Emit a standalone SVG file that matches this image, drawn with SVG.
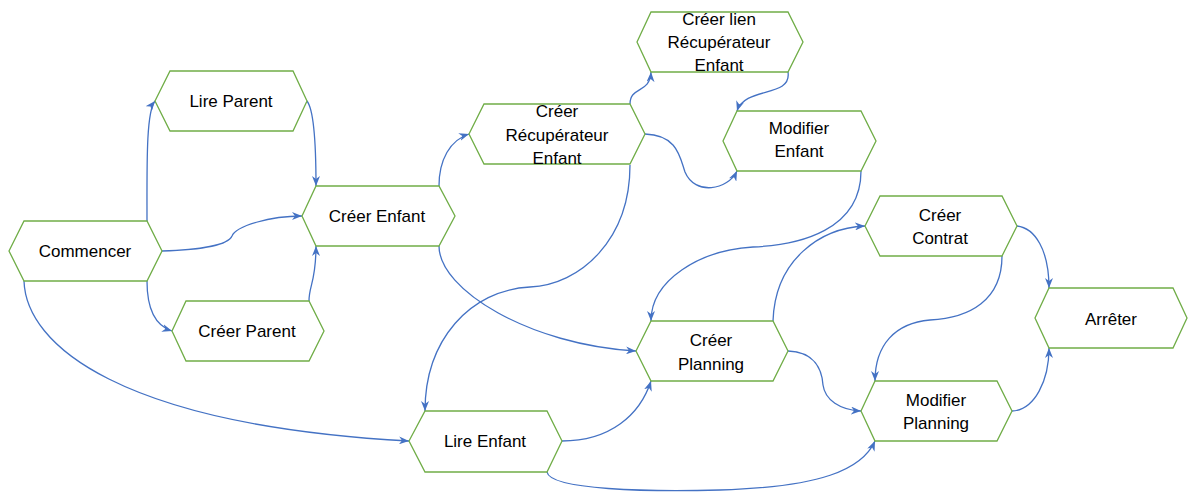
<svg xmlns="http://www.w3.org/2000/svg" width="1191" height="492" viewBox="0 0 1191 492">
<style>
.n{fill:#fff;stroke:#70AD47;stroke-width:1.3}
.t{font-family:"Liberation Sans",Arial,sans-serif;font-size:17px;fill:#000;text-anchor:middle}
.c{fill:none;stroke:#4472C4;stroke-width:1.3;marker-end:url(#a)}
</style>
<defs>
<marker id="a" viewBox="0 0 10 8" refX="10" refY="4" markerWidth="10" markerHeight="8" markerUnits="userSpaceOnUse" orient="auto">
<path d="M0,0 L10,4 L0,8 L3,4 Z" fill="#4472C4"/>
</marker>
</defs>
<rect width="1191" height="492" fill="#fff"/>
<g id="connectors">
<path class="c" d="M147,221 C147,165 146,112 155,101"/>
<path class="c" d="M162,251 C200,250 228,245 232,236 C236,226 270,216 302,216"/>
<path class="c" d="M147,281 C147,310 156,326 172,331"/>
<path class="c" d="M307,101 C314,110 316,140 316,186"/>
<path class="c" d="M309,301 C309,285 316,282 316,246"/>
<path class="c" d="M439,186 C439,160 450,140 469,134"/>
<path class="c" d="M439,246 C439,290 530,345 636,351"/>
<path class="c" d="M630,104 C630,86 650,94 651,72"/>
<path class="c" d="M788,72 C792,98 745,86 737,111"/>
<path class="c" d="M645,134 C678,135 680,158 685,172 C695,196 728,190 737,171"/>
<path class="c" d="M630,165 C630,240 580,285 530,287 C470,290 425,340 425,411"/>
<path class="c" d="M861,171 C861,230 800,245 753,247 C700,250 651,280 651,321"/>
<path class="c" d="M562,441 C610,441 640,415 651,381"/>
<path class="c" d="M547,472 C550,490 650,492 720,490 C820,487 862,470 875,441"/>
<path class="c" d="M24,281 C26,345 120,425 409,441"/>
<path class="c" d="M773,321 C775,260 820,228 865,226"/>
<path class="c" d="M788,351 C815,352 822,370 823,385 C825,400 840,410 861,411"/>
<path class="c" d="M1002,256 C1002,300 970,318 930,320 C895,323 875,345 875,381"/>
<path class="c" d="M1017,226 C1035,228 1049,250 1049,288"/>
<path class="c" d="M1012,411 C1035,410 1049,380 1049,348"/>
</g>
<g id="commencer"><polygon class="n" points="9,251 24,221 147,221 162,251 147,281 24,281"/><text class="t" x="85" y="257">Commencer</text></g>
<g id="lire-parent"><polygon class="n" points="155,101 170,71 293,71 307,101 293,131 170,131"/><text class="t" x="231" y="107">Lire Parent</text></g>
<g id="creer-parent"><polygon class="n" points="172,331 186,301 309,301 324,331 309,361 186,361"/><text class="t" x="247" y="337">Créer Parent</text></g>
<g id="creer-enfant"><polygon class="n" points="302,216 316,186 439,186 455,216 439,246 316,246"/><text class="t" x="377" y="222">Créer Enfant</text></g>
<g id="creer-recuperateur-enfant"><polygon class="n" points="469,134 484,104 630,104 645,134 630,164 484,164"/><text class="t" x="557" y="117">Créer</text><text class="t" x="557" y="141">Récupérateur</text><text class="t" x="557" y="164">Enfant</text></g>
<g id="creer-lien"><polygon class="n" points="637,42 651,12 788,12 803,42 788,72 651,72"/><text class="t" x="719" y="25">Créer lien</text><text class="t" x="719" y="48">Récupérateur</text><text class="t" x="719" y="71">Enfant</text></g>
<g id="modifier-enfant"><polygon class="n" points="723,141 737,111 861,111 876,141 861,171 737,171"/><text class="t" x="799" y="134">Modifier</text><text class="t" x="799" y="157">Enfant</text></g>
<g id="creer-contrat"><polygon class="n" points="865,226 880,196 1002,196 1017,226 1002,256 880,256"/><text class="t" x="940" y="221">Créer</text><text class="t" x="940" y="244">Contrat</text></g>
<g id="arreter"><polygon class="n" points="1035,318 1049,288 1173,288 1187,318 1173,348 1049,348"/><text class="t" x="1111" y="325">Arrêter</text></g>
<g id="modifier-planning"><polygon class="n" points="861,411 875,381 997,381 1012,411 997,441 875,441"/><text class="t" x="936" y="406">Modifier</text><text class="t" x="936" y="429">Planning</text></g>
<g id="creer-planning"><polygon class="n" points="636,351 651,321 773,321 788,351 773,381 651,381"/><text class="t" x="711" y="346">Créer</text><text class="t" x="711" y="370">Planning</text></g>
<g id="lire-enfant"><polygon class="n" points="409,441 425,411 547,411 562,441 547,472 425,472"/><text class="t" x="485" y="447">Lire Enfant</text></g>
</svg>
